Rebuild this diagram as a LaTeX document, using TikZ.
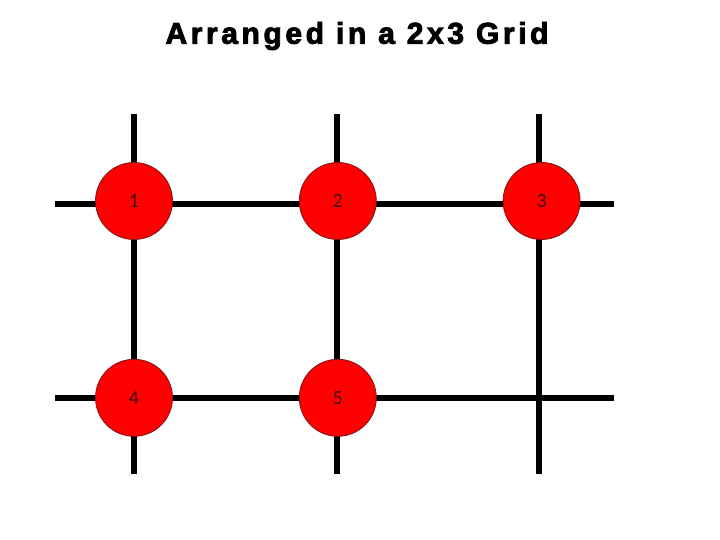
\documentclass[tikz,border=0pt]{standalone}
\usepackage{fontspec}
\setmainfont{Liberation Sans}
\newfontfamily\labelfont{Carlito}
\usetikzlibrary{positioning, backgrounds}
\definecolor{dotfill}{HTML}{FF0000}
\definecolor{dotline}{HTML}{7A1414}
\definecolor{dottext}{HTML}{3A1010}
\tikzset{
  griddot/.style  = {circle, fill=dotfill, draw=dotline, line width=0.8pt,
                     minimum size=77pt, inner sep=0pt, text=dottext,
                     font=\labelfont\fontsize{20}{20}\selectfont},
  gridline/.style = {line width=6pt, black},
  title/.style    = {font=\bfseries\fontsize{30}{30}\selectfont\addfontfeature{LetterSpace=12, FakeBold=3}},
}

\begin{document}
\begin{tikzpicture}[x=1pt, y=-1pt, node distance=119pt and 126pt]
        \useasboundingbox (0,0) rectangle (720,540);
        \node[title] (head) at (357,36) {Arranged in a 2x3 Grid};
        % circles
        \node[griddot] (c1) at (134,201) {1};
        \node[griddot, right=of c1] (c2) {2};
        \node[griddot, right=of c2] (c3) {3};
        \node[griddot, below=of c1] (c4) {4};
        \node[griddot, below=of c2] (c5) {5};
        % line ends
        \coordinate (h1a) at (55,204);  \coordinate (h1b) at (614,204);
        \coordinate (h2a) at (55,398);  \coordinate (h2b) at (614,398);
        \coordinate (v1a) at (134,114); \coordinate (v1b) at (134,474);
        \coordinate (v2a) at (337,114); \coordinate (v2b) at (337,474);
        \coordinate (v3a) at (539,114); \coordinate (v3b) at (539,474);
        \begin{scope}[on background layer]
            \draw[gridline] (h1a) -- (h1b);
            \draw[gridline] (h2a) -- (h2b);
            \draw[gridline] (v1a) -- (v1b);
            \draw[gridline] (v2a) -- (v2b);
            \draw[gridline] (v3a) -- (v3b);
        \end{scope}
    \end{tikzpicture}
\end{document}
